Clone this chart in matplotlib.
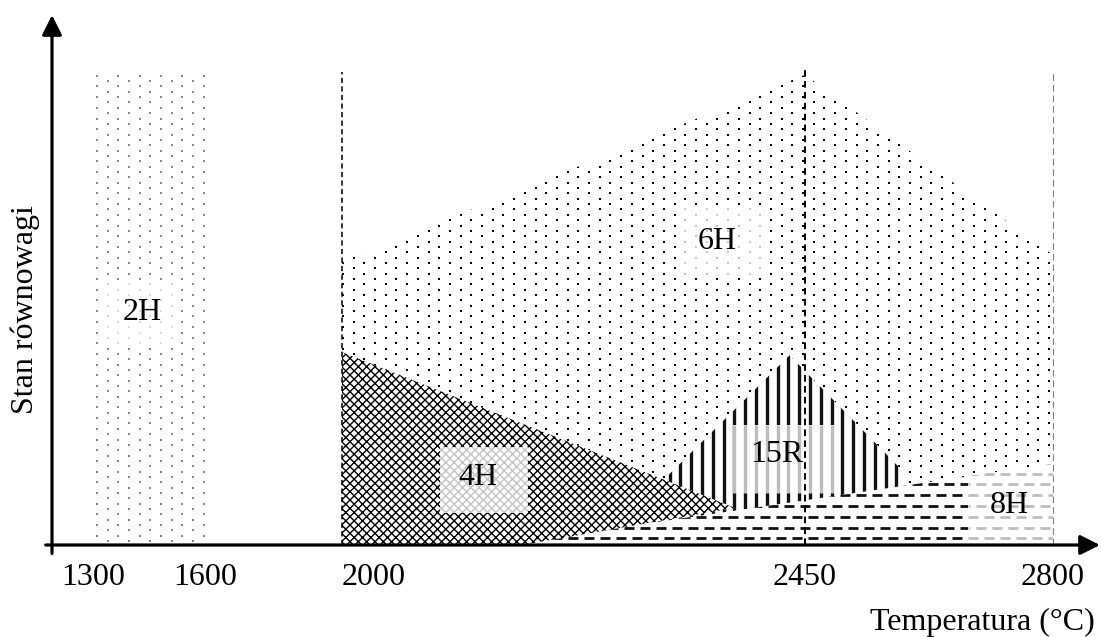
import numpy as np
import matplotlib
matplotlib.use('Agg')
import matplotlib.pyplot as plt
from matplotlib.patches import Polygon, Rectangle
from matplotlib.collections import LineCollection
from matplotlib.transforms import IdentityTransform

plt.rcParams['font.family'] = ['Liberation Serif', 'DejaVu Serif']
plt.rcParams['hatch.linewidth'] = 1.0

# Temperature axis (deg C)
tick_temps = [1300, 1600, 2000, 2450, 2800]
tick_labels = ['1300', '1600', '2000', '2450', '2800']

# Polytype regions: outline temperatures and equilibrium level (arbitrary units)
t_2h = [1300, 1600, 1600, 1300]
y_2h = [0, 0, 89.1, 89.1]
t_6h = [2000, 2000, 2450, 2800, 2800]
y_6h = [0, 53.4, 88.7, 54.7, 0]
t_15r = [2299, 2435, 2584, 2584, 2299]
y_15r = [9.7, 35.8, 14.5, 9.0, 2.0]
t_8h = [2154, 2800, 2800]
y_8h = [0, 15.3, 0]
t_4h = [2000, 2000, 2382, 2175]
y_4h = [0, 36.4, 7.0, 0]

# dashed boundaries
t_bounds = [2000, 2450, 2800]
y_bounds = [89.2, 90.0, 89.0]

# labels (text, temp, level)
lab_txt = ['2H', '6H', '4H', '15R', '8H']
lab_t = [1431, 2365, 2132, 2423, 2739]
lab_y = [43.8, 57.2, 12.8, 17.0, 7.5]

# axis is not linear in the original: temperature -> pixel from axis origin
AX_T = [1190, 1300, 1600, 2000, 2450, 2800, 2866]
AX_P = [0, 41, 153, 290, 753, 1001, 1048]

def fwd(t):
    return np.interp(t, AX_T, AX_P)

def inv(p):
    return np.interp(p, AX_P, AX_T)

fig = plt.figure(figsize=(11.02, 6.37), dpi=100)
ax = fig.add_axes([52/1102, 92/637, 1048/1102, 530/637])
ax.set_xscale('function', functions=(fwd, inv))
ax.set_xlim(AX_T[0], AX_T[-1])
ax.set_ylim(0, 100)
for s in ax.spines.values():
    s.set_visible(False)
ax.set_yticks([])
ax.set_xticks(tick_temps, tick_labels)
ax.tick_params(axis='x', length=0, pad=13, labelsize=23)
ax.get_xticklabels()[2].set_ha('left')

ID = IdentityTransform()

def pix(t0, t1, y0, y1):
    (a, b), (c, d) = ax.transData.transform([(t0, y0), (t1, y1)])
    return a, c, b, d

def dots(clip, box, color, size, z):
    x0, x1, y0, y1 = box
    sx, sy = 21.4, 5.35
    px, py = [], []
    for r in np.arange(np.floor(y0/sy), np.ceil(y1/sy)+1):
        off = (r % 2) * sx / 2
        xs = np.arange(np.floor((x0-off)/sx), np.ceil((x1-off)/sx)+1) * sx + off
        xs = xs[(xs >= x0) & (xs <= x1)]
        px += list(np.floor(xs) + 0.5)
        py += [np.floor(r*sy) + 0.5] * len(xs)
    sc = ax.scatter(px, py, s=size, marker='s', color=color, linewidths=0,
                    transform=ID, zorder=z)
    sc.set_clip_path(clip)

def bars(clip, box, color, lw, z):
    x0, x1, y0, y1 = box
    st = 10.8
    xs = np.arange(np.ceil(x0/st), np.floor(x1/st)+1) * st
    lc = LineCollection([[(x, y0), (x, y1)] for x in xs], colors=color,
                        linewidths=lw, transform=ID, zorder=z)
    ax.add_collection(lc, autolim=False)
    lc.set_clip_path(clip)

def dashes(clip, box, color, lw, z):
    x0, x1, y0, y1 = box
    st, per, on = 10.8, 16.0, 9.5
    segs = []
    for r in np.arange(np.ceil(y0/st), np.floor(y1/st)+1):
        y = r * st + 1.5
        off = (r % 2) * per / 2
        for s in np.arange(np.floor((x0-off)/per), np.ceil((x1-off)/per)+1) * per + off:
            a, b = max(s, x0), min(s + on, x1)
            if b > a:
                segs.append([(a, y), (b, y)])
    lc = LineCollection(segs, colors=color, linewidths=lw, transform=ID, zorder=z)
    ax.add_collection(lc, autolim=False)
    lc.set_clip_path(clip)

def region(t, y, z, hatch=None):
    p = Polygon(np.column_stack([t, y]), closed=True, facecolor='white',
                edgecolor='black' if hatch else 'none', lw=0, hatch=hatch, zorder=z)
    ax.add_patch(p)
    return p

def label_box(clip, box, z, hatch=None, hcol='#bdbdbd'):
    t0, t1, y0, y1 = box
    r = Rectangle((t0, y0), t1-t0, y1-y0, facecolor='white',
                  edgecolor=hcol if hatch else 'none', lw=0, hatch=hatch, zorder=z)
    ax.add_patch(r)
    r.set_clip_path(clip)
    return pix(t0, t1, y0, y1)

full = (0, 1102, 0, 637)

# 2H
p2 = region(t_2h, y_2h, 1)
dots(p2, full, '#888888', 3.6, 1.1)
b = label_box(p2, (1332, 1533, 38.7, 48.7), 1.2)
dots(p2, b, '#dadada', 3.6, 1.3)

# 6H
p6 = region(t_6h, y_6h, 1)
dots(p6, full, '#000000', 4.0, 1.1)
b = label_box(p6, (2329, 2409, 51.3, 62.6), 1.2)
dots(p6, b, '#c8c8c8', 4.0, 1.3)

# 15R
p15 = region(t_15r, y_15r, 2)
bars(p15, full, '#111111', 2.4, 2.1)
b = label_box(p15, (2380, 2492, 9.8, 22.6), 2.2)
bars(p15, b, '#bdbdbd', 2.4, 2.3)

# 8H
p8 = region(t_8h, y_8h, 3)
dashes(p8, full, '#111111', 2.0, 3.1)
b = label_box(p8, (2680, 2800, 0, 16), 3.2)
dashes(p8, b, '#bdbdbd', 2.0, 3.3)

# 4H
p4 = region(t_4h, y_4h, 4, hatch='xxxx')
label_box(p4, (2095, 2181, 6.0, 18.5), 4.2, hatch='xxxx', hcol='#c4c4c4')

# dashed boundaries
ax.vlines(t_bounds[0], 0, y_bounds[0], colors='black', lw=1.1,
          linestyles=(0, (3.4, 2.2)), zorder=6)
ax.vlines(t_bounds[1], 0, y_bounds[1], colors='black', lw=1.4,
          linestyles=(0, (3.4, 2.2)), zorder=6)
ax.vlines(t_bounds[2], 0, y_bounds[2], colors='#808080', lw=0.8,
          linestyles=(0, (6, 3.5)), zorder=6)

for s, t, y in zip(lab_txt, lab_t, lab_y):
    ax.text(t, y, s, fontsize=23, ha='center', va='center', zorder=7)

# axes with arrows
arr = dict(arrowstyle='-|>,head_length=0.6,head_width=0.3', lw=2.3, color='black',
           mutation_scale=20, shrinkA=0, shrinkB=0)
ax.annotate('', xy=(1.0, 0), xytext=(-0.006, 0), xycoords='axes fraction',
            arrowprops=arr, zorder=8, annotation_clip=False)
ax.annotate('', xy=(0, 1.0), xytext=(0, -0.016), xycoords='axes fraction',
            arrowprops=arr, zorder=8, annotation_clip=False)

fig.text(1095/1102, 1 - 622/637, 'Temperatura (°C)', fontsize=23, ha='right', va='center')
fig.text(25/1102, 1 - 310/637, 'Stan równowagi', fontsize=23, rotation=90,
         ha='center', va='center')

fig.savefig('out.png', dpi=100)
